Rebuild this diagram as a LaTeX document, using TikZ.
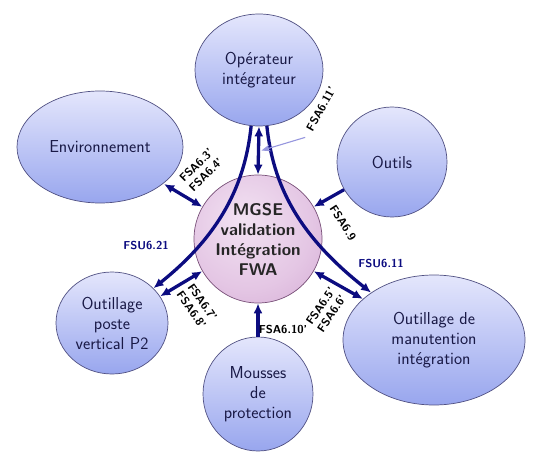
\documentclass[tikz,border=0pt]{standalone}
\usetikzlibrary{shapes.geometric,arrows.meta,calc}
\definecolor{navy}{RGB}{12,12,128}
\definecolor{entTop}{RGB}{228,230,252}
\definecolor{entBot}{RGB}{152,166,238}
\definecolor{entLine}{RGB}{80,80,130}
\definecolor{nodeText}{RGB}{25,25,70}
\definecolor{cIn}{RGB}{242,226,242}
\definecolor{cMid}{RGB}{228,198,228}
\definecolor{cOut}{RGB}{200,150,200}
\definecolor{cLine}{RGB}{120,80,120}
\definecolor{thinArr}{RGB}{150,150,222}
\pgfdeclareradialshading{cball}{\pgfpoint{-6bp}{8bp}}{color(0bp)=(cIn); color(25bp)=(cMid); color(55bp)=(cOut); color(80bp)=(cOut)}
\begin{document}
\begin{tikzpicture}[x=1pt,y=-1pt,
  ent/.style={ellipse, draw=entLine, line width=0.7pt, top color=entTop, bottom color=entBot,
    inner xsep=-8pt, inner ysep=0pt, align=center, text=nodeText, font=\sffamily\fontsize{17.3}{20}\selectfont},
  ctr/.style={circle, draw=cLine, line width=0.7pt, shading=cball,
    inner xsep=-8pt, inner ysep=0pt, minimum size=128pt, align=center, text=black!85,
    font=\sffamily\bfseries\fontsize{17}{20}\selectfont},
  lab/.style={align=center, inner sep=0pt, font=\sffamily\bfseries\fontsize{11.5}{13.5}\selectfont},
  fsu/.style={lab, text=navy},
  arr/.style={line width=3.3pt, draw=navy},
  sgl/.style={arr, -{Latex[length=10pt,width=9pt]}},
  dbl/.style={arr, {Latex[length=10pt,width=9pt]}-{Latex[length=10pt,width=9pt]}}
]
\useasboundingbox (0,0) rectangle (540,465);

\node[ent, minimum width=128pt, minimum height=112pt] (op) at (259,70) {Opérateur\\intégrateur};
\node[ent, minimum width=166pt, minimum height=112pt] (env) at (100,147) {Environnement};
\node[ent, minimum width=110pt, minimum height=110pt] (outils) at (392,162) {Outils};
\node[ent, minimum width=112pt, minimum height=102pt] (p2) at (112,323) {Outillage\\poste\\vertical P2};
\node[ent, minimum width=110pt, minimum height=114pt] (mousses) at (258,394) {Mousses\\de\\protection};
\node[ent, minimum width=182pt, minimum height=130pt] (manut) at (434,340) {Outillage de\\manutention\\intégration};
\node[ctr] (c) at (258,239) {MGSE\\validation\\Intégration\\FWA};

\coordinate (envA) at ($(env.center)+(64,37)$);
\draw[dbl] (op.270) -- (c.90);
\draw[dbl] (envA) -- (c.150);
\draw[sgl] (outils.210) -- (c.30);
\draw[dbl] (p2.29) -- (c.210);
\draw[sgl] (mousses.90) -- (c.270);
\draw[dbl] (manut.150) -- (c.-30);
\draw[sgl] (op.262) .. controls (245,185) and (220,235) .. (p2.40);
\draw[sgl] (op.278) .. controls (273,185) and (298,235) .. (manut.143);

\node[lab, rotate=61] (l11) at (321,109) {FSA6.11'};
\coordinate (tip11) at ($(op.270)!0.5!(c.90)+(3,0)$);
\draw[thinArr, line width=1.1pt, -{Stealth[length=9pt,width=7pt]}] ($(l11.west)+(-4,7)$) -- (tip11);

\node[lab, rotate=45] (l34) at (201,170) {FSA6.3'\\FSA6.4'};
\node[lab, rotate=-57] (l9) at (343,223) {FSA6.9};
\node[lab, rotate=-55] (l78) at (197,306) {FSA6.7'\\FSA6.8'};
\node[lab, rotate=56] (l56) at (326,310) {FSA6.5'\\FSA6.6'};
\node[lab] (l10) at (283,330) {FSA6.10'};
\node[fsu] (u21) at (146,246) {FSU6.21};
\node[fsu] (u11) at (381,264) {FSU6.11};
\end{tikzpicture}
\end{document}
